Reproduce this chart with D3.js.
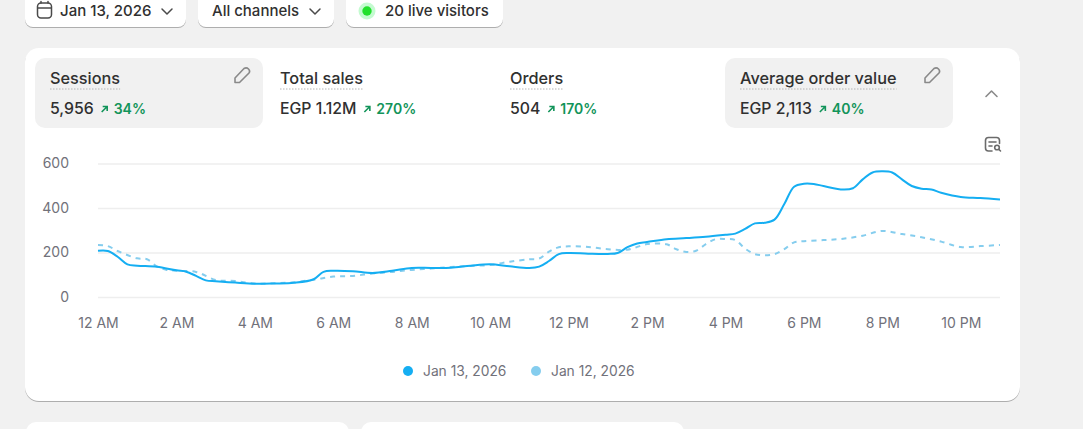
<!DOCTYPE html>
<html>
<head>
<meta charset="utf-8">
<script src="https://cdn.jsdelivr.net/npm/d3@7"></script>
<style>
html, body { margin: 0; padding: 0; background: #f1f1f1; overflow: hidden; }
svg { display: block; font-family: Inter, "Noto Sans", sans-serif; }
.btn { font-size: 15px; font-weight: 500; fill: #303030; }
.metric { font-size: 16.3px; font-weight: 550; fill: #303030; }
.value { font-size: 15.8px; font-weight: 550; fill: #303030; }
.delta { font-size: 14px; font-weight: 600; fill: #12945a; }
.axis text { font-size: 14px; fill: #71717a; font-family: Inter, sans-serif; }
.axis path, .axis .tick line { stroke: none; }
.grid line { stroke: #eeeeee; stroke-width: 1.3; }
.legend { font-size: 13.8px; fill: #71717a; }
</style>
</head>
<body>
<svg width="1083" height="429"></svg>
<script>
// points, closer together where the curve bends
var hours13 = [0,0.25,0.5,0.75,1,1.5,2,2.25,2.5,2.75,3,3.5,4,4.5,5,5.5,5.75,6,6.5,7,7.5,8,8.5,9,9.5,10,10.5,11,11.25,11.5,11.75,
  12,12.5,13,13.25,13.5,13.75,14,14.5,15,15.5,16,16.25,16.5,16.75,17,17.25,17.5,17.75,18,18.25,18.5,19,19.25,19.5,19.75,20,20.25,20.5,20.75,21,21.25,21.5,22,22.5,23];
var jan13 = [210,209,183,149,143,138,122,116,97,77,73,67,62,63,66,82,115,120,118,110,120,133,133,134,143,149,140,133,139,164,195,
  200,197,196,200,226,243,249,262,267,273,282,287,308,333,336,350,420,498,511,510,501,485,491,531,562,567,562,531,501,489,485,471,452,447,440];
var hours12 = [0,0.25,0.5,1,1.25,1.5,1.75,2,2.5,3,3.5,4,4.5,5,5.5,6,6.5,7,7.5,8,8.5,9,9.5,10,10.5,11,11.25,11.5,11.75,
  12,12.5,13,13.5,14,14.5,14.75,15,15.25,15.5,15.75,16,16.25,16.5,16.75,17,17.25,17.5,17.75,18,18.5,19,19.5,20,20.5,21,21.5,22,22.5,23];
var jan12 = [236,231,209,176,172,140,124,120,115,79,74,63,64,69,80,94,97,108,115,124,130,137,142,146,161,172,175,206,226,
  230,227,217,215,240,239,217,205,210,240,262,263,258,220,195,190,195,217,248,253,258,264,278,299,285,271,251,227,231,236];

var yTicks = [0,200,400,600];
var xTicks = [0,2,4,6,8,10,12,14,16,18,20,22];
var xLabels = ["12 AM","2 AM","4 AM","6 AM","8 AM","10 AM","12 PM","2 PM","4 PM","6 PM","8 PM","10 PM"];

var seriesNames = ["Jan 13, 2026","Jan 12, 2026"];
var seriesColors = ["#15aef2","#85cdee"];

var metricNames = ["Sessions","Total sales","Orders","Average order value"];
var metricValues = ["5,956","EGP 1.12M","504","EGP 2,113"];
var metricDeltas = ["34%","270%","170%","40%"];
var metricX = [50,280,510,740];

var svg = d3.select("svg");

function softShadow(sel) {
  sel.style("filter","drop-shadow(0 1px 0.6px rgba(0,0,0,0.28))");
}

// top buttons
var buttons = [
  {x:25, w:161, label:"Jan 13, 2026", tx:60},
  {x:198, w:136, label:"All channels", tx:212},
  {x:346, w:157, label:"20 live visitors", tx:385}
];
buttons.forEach(function(b) {
  svg.append("rect").attr("x",b.x).attr("y",-12).attr("width",b.w).attr("height",39)
    .attr("rx",8).attr("fill","#fff").call(softShadow);
  svg.append("text").attr("class","btn").attr("x",b.tx).attr("y",15.5).text(b.label);
});

var iconStroke = svg.append("g").attr("fill","none").attr("stroke","#4a4a4a")
  .attr("stroke-width",1.5).attr("stroke-linecap","round").attr("stroke-linejoin","round");
iconStroke.append("rect").attr("x",37.5).attr("y",3).attr("width",14).attr("height",15).attr("rx",3.5);
iconStroke.append("path").attr("d","M38 8H51M41 1.5V3M48 1.5V3");
iconStroke.append("path").attr("d","M162 9l5 5 5-5");
iconStroke.append("path").attr("d","M310 9l5 5 5-5");

svg.append("circle").attr("cx",367).attr("cy",11).attr("r",8.5).attr("fill","#c4fbd0");
svg.append("circle").attr("cx",367).attr("cy",11).attr("r",4.7).attr("fill","#22e02c");

// cards
svg.append("rect").attr("x",25).attr("y",48).attr("width",995).attr("height",353)
  .attr("rx",14).attr("fill","#fff").call(softShadow);
svg.append("rect").attr("x",26).attr("y",422).attr("width",323).attr("height",30)
  .attr("rx",10).attr("fill","#fff").call(softShadow);
svg.append("rect").attr("x",361).attr("y",422).attr("width",323).attr("height",30)
  .attr("rx",10).attr("fill","#fff").call(softShadow);

// selected metric tiles
svg.append("rect").attr("x",35).attr("y",58).attr("width",228).attr("height",70).attr("rx",10).attr("fill","#f1f1f1");
svg.append("rect").attr("x",725).attr("y",58).attr("width",228).attr("height",70).attr("rx",10).attr("fill","#f1f1f1");

metricNames.forEach(function(name,i) {
  var x = metricX[i];
  var t = svg.append("text").attr("class","metric").attr("x",x).attr("y",84).text(name);
  var w = t.node().getComputedTextLength();
  svg.append("line").attr("x1",x).attr("x2",x+w).attr("y1",89).attr("y2",89)
    .attr("stroke","#b5b5b5").attr("stroke-width",1).attr("stroke-dasharray","1.5 1.5");
  var v = svg.append("text").attr("class","value").attr("x",x).attr("y",114).text(metricValues[i]);
  var vw = v.node().getComputedTextLength();
  var ax = x+vw+7;
  svg.append("path").attr("d","M"+(ax+1)+" 112L"+(ax+6)+" 107M"+(ax+2)+" 106.5H"+(ax+6.5)+"V111")
    .attr("fill","none").attr("stroke","#12945a").attr("stroke-width",1.6);
  svg.append("text").attr("class","delta").attr("x",ax+13).attr("y",114).text(metricDeltas[i]);
});

// pencils, chevron, report icon
var greyIcon = svg.append("g").attr("fill","none").attr("stroke","#8a8a8a")
  .attr("stroke-width",1.6).attr("stroke-linecap","round").attr("stroke-linejoin","round");
[235,925].forEach(function(px) {
  greyIcon.append("path")
    .attr("d","M"+px+" 82.5V78L"+(px+9)+" 68.5Q"+(px+11.5)+" 67 "+(px+13.5)+" 69Q"+(px+15.5)+" 71 "+(px+14)+" 73L"+(px+4.5)+" 82.5Z");
});
greyIcon.append("path").attr("d","M986 96.5l5.5-5.5 5.5 5.5").attr("stroke","#8a8a8a");
greyIcon.append("path").attr("d","M992 151h-3.5q-3 0-3-3v-7.5q0-3 3-3h8q3 0 3 3v3M989 142h7M989 146h3").attr("stroke","#6b6b6b");
greyIcon.append("circle").attr("cx",997).attr("cy",147.5).attr("r",2.3).attr("stroke","#6b6b6b");
greyIcon.append("path").attr("d","M999 149.5l1.5 1.5").attr("stroke","#6b6b6b");

// chart
var xScale = d3.scaleLinear().domain([0,23]).range([98,1000]);
var yScale = d3.scaleLinear().domain([0,600]).range([297.5,164]);

var gridG = svg.append("g").attr("class","grid");
gridG.selectAll("line").data(yTicks).enter().append("line")
  .attr("x1",98).attr("x2",1000)
  .attr("y1",function(d){return yScale(d);})
  .attr("y2",function(d){return yScale(d);});

svg.append("g").attr("class","axis")
  .attr("transform","translate(71,-0.5)")
  .call(d3.axisLeft(yScale).tickValues(yTicks).tickSize(0).tickPadding(2))
  .call(function(g){ g.select(".domain").remove(); });

svg.append("g").attr("class","axis")
  .attr("transform","translate(0,318.5)")
  .call(d3.axisBottom(xScale).tickValues(xTicks).tickSize(0).tickPadding(0)
    .tickFormat(function(d,i){return xLabels[i];}))
  .call(function(g){ g.select(".domain").remove(); });

function lineFor(hrs) {
  return d3.line()
    .x(function(d,i){return xScale(hrs[i]);})
    .y(function(d){return yScale(d);})
    .curve(d3.curveCatmullRom.alpha(0.5));
}

svg.append("path").datum(jan12).attr("d",lineFor(hours12)).attr("fill","none")
  .attr("stroke",seriesColors[1]).attr("stroke-width",2).attr("stroke-dasharray","5 5");
svg.append("path").datum(jan13).attr("d",lineFor(hours13)).attr("fill","none")
  .attr("stroke",seriesColors[0]).attr("stroke-width",2);

// legend
var legendX = [408,536];
seriesNames.forEach(function(name,i) {
  svg.append("circle").attr("cx",legendX[i]).attr("cy",371).attr("r",5).attr("fill",seriesColors[i]);
  svg.append("text").attr("class","legend").attr("x",legendX[i]+15).attr("y",375.5).text(name);
});
</script>
</body>
</html>
